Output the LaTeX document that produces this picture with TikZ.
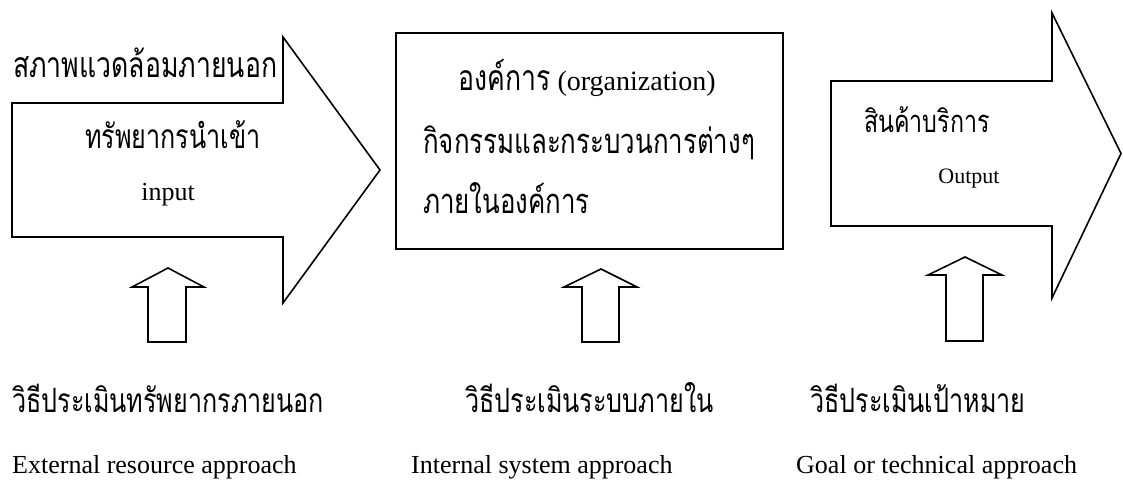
\documentclass[tikz,border=0pt]{standalone}
\usepackage{fontspec}
\setmainfont{Liberation Serif}
\newfontfamily\thai[Script=Thai,FakeStretch=0.75]{Loma}
\newcommand{\thsz}[1]{\thai\fontsize{#1}{#1}\selectfont}
\begin{document}
\begin{tikzpicture}[x=1pt,y=-1pt,
  outl/.style={draw=black,line width=1.6pt,line join=miter},
  en/.style={font=\fontsize{26}{30}\selectfont,inner sep=0pt},
  th/.style={font=\thsz{33.5},inner sep=0pt}]
\useasboundingbox (0,0) rectangle (1123,493);
% big input arrow
\draw[outl] (12,103) coordinate (a1) -- (283,103) -- (283,37) -- (380,170) coordinate (a1tip) -- (283,303) -- (283,237) -- (12,237) -- cycle;
% organization box
\node[outl,anchor=north west,minimum width=387pt,minimum height=216pt,inner sep=0pt] (org) at (395,32) {};
% output arrow
\draw[outl] (831,81) coordinate (a3) -- (1052,81) -- (1052,13) -- (1121,153.5) coordinate (a3tip) -- (1052,298) -- (1052,226) -- (831,226) -- cycle;
% small up arrows
\draw[outl] (148,342) -- (148,287) -- (132,287) -- (168,268) coordinate (u1) -- (204,287) -- (186,287) -- (186,342) -- cycle;
\draw[outl] (582,342) -- (582,287) -- (564,287) -- (601,269) coordinate (u2) -- (637,287) -- (619,287) -- (619,342) -- cycle;
\draw[outl] (946,341) -- (946,275) -- (928,275) -- (965,257) coordinate (u3) -- (1002,275) -- (983,275) -- (983,341) -- cycle;
% texts
\node[th,font=\thsz{35.5},anchor=base west] (env) at (13,77) {สภาพแวดล้อมภายนอก};
\node[th,anchor=base] (inres) at (173,148) {ทรัพยากรนำเข้า};
\node[en,anchor=base] (inp) at (168,200) {input};
\node[en,font=\fontsize{28}{30}\selectfont,anchor=base] (orgt) at (587,90) {{\thsz{35.5}องค์การ} (organization)};
\node[th,font=\thsz{34.5},anchor=base west] (act) at (423,153) {กิจกรรมและกระบวนการต่างๆ};
\node[th,font=\thsz{34.5},anchor=base west] (inorg) at (423,213) {ภายในองค์การ};
\node[th,font=\thsz{31},anchor=base] (prod) at (927,132) {สินค้าบริการ};
\node[en,anchor=base,font=\fontsize{22}{26}\selectfont] (outp) at (969,183) {Output};
\node[th,anchor=base west] (m1) at (12,412) {วิธีประเมินทรัพยากรภายนอก};
\node[th,anchor=base west] (m2) at (465,412) {วิธีประเมินระบบภายใน};
\node[th,anchor=base west] (m3) at (810,412) {วิธีประเมินเป้าหมาย};
\node[en,anchor=base west] (e1) at (12,473) {External resource approach};
\node[en,anchor=base west] (e2) at (411,473) {Internal system approach};
\node[en,anchor=base west] (e3) at (796,473) {Goal or technical approach};
\end{tikzpicture}
\end{document}
